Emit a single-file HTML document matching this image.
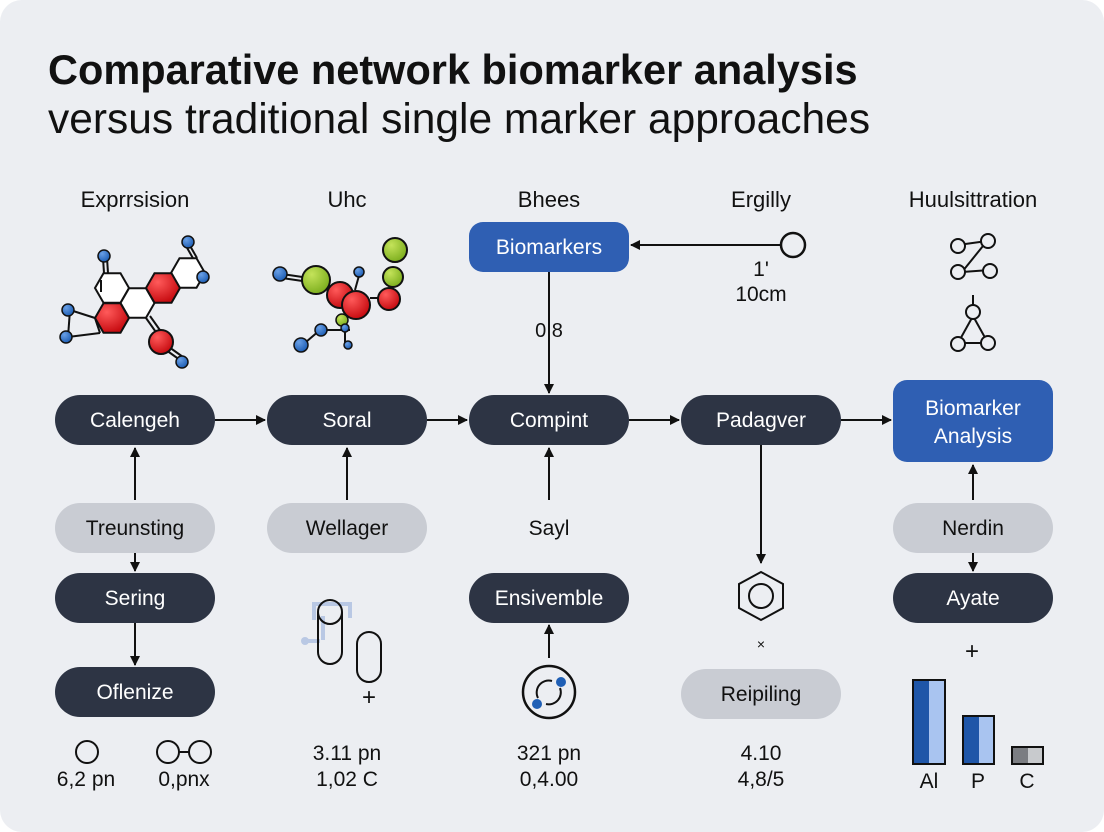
<!DOCTYPE html>
<html><head><style>
html,body{margin:0;padding:0;background:#fff;}
svg{display:block;font-family:"Liberation Sans",sans-serif;}
</style></head><body>
<svg width="1104" height="832" viewBox="0 0 1104 832" xmlns="http://www.w3.org/2000/svg">
<defs>
<marker id="ah" markerWidth="10" markerHeight="10" refX="9" refY="5" orient="auto" markerUnits="userSpaceOnUse"><path d="M0,0 L10,5 L0,10 z" fill="#111"/></marker>
<radialGradient id="rd" cx="35%" cy="30%" r="70%"><stop offset="0" stop-color="#ff5a5a"/><stop offset="1" stop-color="#c80d12"/></radialGradient>
<radialGradient id="gr" cx="35%" cy="30%" r="70%"><stop offset="0" stop-color="#c4e35a"/><stop offset="1" stop-color="#7fb020"/></radialGradient>
<radialGradient id="bl" cx="35%" cy="30%" r="70%"><stop offset="0" stop-color="#6aa0e6"/><stop offset="1" stop-color="#1f5fb5"/></radialGradient>
</defs>
<rect x="0" y="0" width="1104" height="832" rx="22" fill="#eceef2"/>
<text x="48" y="84" font-size="41.5" font-weight="bold" fill="#111">Comparative network biomarker analysis</text>
<text x="48" y="133" font-size="42.5" fill="#111">versus traditional single marker approaches</text>

<g font-size="22" fill="#111" text-anchor="middle">
<text x="135" y="207">Exprrsision</text><text x="347" y="207">Uhc</text><text x="549" y="207">Bhees</text><text x="761" y="207">Ergilly</text><text x="973" y="207">Huulsittration</text>
</g>

<!-- molecule 1 -->
<g stroke="#111" stroke-width="2">
<line x1="104" y1="273" x2="103" y2="258"/><line x1="108" y1="273" x2="107" y2="258"/>
<line x1="95" y1="318" x2="70" y2="310"/><line x1="95" y1="318" x2="100" y2="333"/>
<line x1="70" y1="310" x2="68" y2="337"/><line x1="68" y1="337" x2="100" y2="333"/>
<line x1="146" y1="318" x2="158" y2="335"/><line x1="150" y1="316" x2="162" y2="333"/>
<line x1="166" y1="350" x2="180" y2="360"/><line x1="169" y1="347" x2="183" y2="357"/>
<line x1="197" y1="258" x2="189" y2="244"/><line x1="194" y1="260" x2="186" y2="246"/>
<line x1="205" y1="273" x2="203" y2="277"/>
</g>
<g stroke="#111" stroke-width="2">
<polygon points="129,288 120.5,273.3 103.5,273.3 95,288 103.5,302.7 120.5,302.7" fill="#fff"/>
<polygon points="154.5,303 146,288.3 129,288.3 120.5,303 129,317.7 146,317.7" fill="#fff"/>
<polygon points="205,273 196.5,258.3 179.5,258.3 171,273 179.5,287.7 196.5,287.7" fill="#fff"/>
<polygon points="129,318 120.5,303.3 103.5,303.3 95,318 103.5,332.7 120.5,332.7" fill="url(#rd)"/>
<polygon points="180,288 171.5,273.3 154.5,273.3 146,288 154.5,302.7 171.5,302.7" fill="url(#rd)"/>
</g>
<line x1="101" y1="280" x2="101" y2="292" stroke="#111" stroke-width="2"/>
<circle cx="161" cy="342" r="12" fill="url(#rd)" stroke="#111" stroke-width="2"/>
<g fill="url(#bl)" stroke="#111" stroke-width="1.5">
<circle cx="104" cy="256" r="6"/><circle cx="188" cy="242" r="6"/><circle cx="203" cy="277" r="6"/><circle cx="68" cy="310" r="6"/><circle cx="66" cy="337" r="6"/><circle cx="182" cy="362" r="6"/>
</g>
<!-- molecule 2 -->
<g stroke="#111" stroke-width="2">
<line x1="282" y1="274" x2="316" y2="279"/><line x1="282" y1="278" x2="316" y2="283"/>
<line x1="355" y1="290" x2="360" y2="272"/><line x1="350" y1="330" x2="320" y2="330"/><line x1="306" y1="342" x2="320" y2="330"/>
<line x1="345" y1="315" x2="345" y2="345"/><line x1="370" y1="298" x2="392" y2="298"/>
</g>
<circle cx="316" cy="280" r="14" fill="url(#gr)" stroke="#111" stroke-width="2"/>
<circle cx="395" cy="250" r="12" fill="url(#gr)" stroke="#111" stroke-width="2"/>
<circle cx="393" cy="277" r="10" fill="url(#gr)" stroke="#111" stroke-width="2"/>
<circle cx="340" cy="295" r="13" fill="url(#rd)" stroke="#111" stroke-width="2"/>
<circle cx="356" cy="305" r="14" fill="url(#rd)" stroke="#111" stroke-width="2"/>
<circle cx="389" cy="299" r="11" fill="url(#rd)" stroke="#111" stroke-width="2"/>
<circle cx="342" cy="320" r="6" fill="url(#gr)" stroke="#111" stroke-width="1.5"/>
<g fill="url(#bl)" stroke="#111" stroke-width="1.5">
<circle cx="280" cy="274" r="7"/><circle cx="359" cy="272" r="5"/><circle cx="321" cy="330" r="6"/><circle cx="301" cy="345" r="7"/><circle cx="345" cy="328" r="4"/><circle cx="348" cy="345" r="4"/>
</g>

<!-- Biomarkers top -->
<rect x="469" y="222" width="160" height="50" rx="14" fill="#2f5fb3"/>
<text x="549" y="254" font-size="21" fill="#fff" text-anchor="middle">Biomarkers</text>
<line x1="781" y1="245" x2="631" y2="245" stroke="#111" stroke-width="2" marker-end="url(#ah)"/>
<circle cx="793" cy="245" r="12" fill="none" stroke="#111" stroke-width="2.5"/>
<text x="761" y="276" font-size="21" fill="#111" text-anchor="middle">1'</text>
<text x="761" y="301" font-size="21" fill="#111" text-anchor="middle">10cm</text>
<text x="549" y="337" font-size="20" fill="#111" text-anchor="middle">0 8</text>

<!-- network icons -->
<g stroke="#111" stroke-width="2" fill="#eceef2">
<line x1="958" y1="245" x2="987" y2="241"/><line x1="987" y1="241" x2="962" y2="272"/><line x1="962" y1="272" x2="990" y2="270"/>
<circle cx="958" cy="246" r="7"/><circle cx="988" cy="241" r="7"/><circle cx="958" cy="272" r="7"/><circle cx="990" cy="271" r="7"/>
<line x1="973" y1="295" x2="973" y2="310"/><line x1="973" y1="316" x2="958" y2="343"/><line x1="973" y1="316" x2="988" y2="343"/><line x1="958" y1="343" x2="988" y2="343"/>
<circle cx="973" cy="312" r="7"/><circle cx="958" cy="344" r="7"/><circle cx="988" cy="343" r="7"/>
</g>

<!-- main row -->
<g fill="#2d3444">
<rect x="55" y="395" width="160" height="50" rx="25"/><rect x="267" y="395" width="160" height="50" rx="25"/>
<rect x="469" y="395" width="160" height="50" rx="25"/><rect x="681" y="395" width="160" height="50" rx="25"/>
<rect x="55" y="573" width="160" height="50" rx="25"/><rect x="469" y="573" width="160" height="50" rx="25"/>
<rect x="893" y="573" width="160" height="50" rx="25"/><rect x="55" y="667" width="160" height="50" rx="25"/>
</g>
<rect x="893" y="380" width="160" height="82" rx="14" fill="#2f5fb3"/>
<g fill="#c9ccd3">
<rect x="55" y="503" width="160" height="50" rx="25"/><rect x="267" y="503" width="160" height="50" rx="25"/>
<rect x="893" y="503" width="160" height="50" rx="25"/><rect x="681" y="669" width="160" height="50" rx="25"/>
</g>
<g font-size="21" fill="#fff" text-anchor="middle">
<text x="135" y="427">Calengeh</text><text x="347" y="427">Soral</text><text x="549" y="427">Compint</text><text x="761" y="427">Padagver</text>
<text x="973" y="415">Biomarker</text><text x="973" y="443">Analysis</text>
<text x="135" y="605">Sering</text><text x="549" y="605">Ensivemble</text><text x="973" y="605">Ayate</text><text x="135" y="699">Oflenize</text>
</g>
<g font-size="21" fill="#111" text-anchor="middle">
<text x="135" y="535">Treunsting</text><text x="347" y="535">Wellager</text><text x="973" y="535">Nerdin</text><text x="761" y="701">Reipiling</text>
<text x="549" y="535">Sayl</text>
</g>

<g stroke="#111" stroke-width="2" marker-end="url(#ah)">
<line x1="215" y1="420" x2="265" y2="420"/><line x1="427" y1="420" x2="467" y2="420"/>
<line x1="629" y1="420" x2="679" y2="420"/><line x1="841" y1="420" x2="891" y2="420"/>
<line x1="135" y1="500" x2="135" y2="448"/><line x1="347" y1="500" x2="347" y2="448"/>
<line x1="549" y1="500" x2="549" y2="448"/><line x1="973" y1="500" x2="973" y2="465"/>
<line x1="549" y1="272" x2="549" y2="393"/><line x1="761" y1="445" x2="761" y2="563"/>
<line x1="135" y1="553" x2="135" y2="571"/><line x1="135" y1="623" x2="135" y2="665"/>
<line x1="973" y1="553" x2="973" y2="571"/><line x1="549" y1="658" x2="549" y2="625"/>
</g>

<!-- hexagon -->
<polygon points="761,572 783,584 783,608 761,620 739,608 739,584" fill="none" stroke="#111" stroke-width="2"/>
<circle cx="761" cy="596" r="12" fill="none" stroke="#111" stroke-width="2"/>
<text x="761" y="649" font-size="14" fill="#111" text-anchor="middle">×</text>

<!-- cylinders -->
<g stroke="#b9c8e4" stroke-width="4" fill="none"><path d="M314,620 V604 H350 V618"/><line x1="323" y1="616" x2="323" y2="640"/><line x1="305" y1="641" x2="320" y2="641"/></g>
<circle cx="305" cy="641" r="4" fill="#b9c8e4"/>
<rect x="318" y="600" width="24" height="64" rx="12" fill="none" stroke="#111" stroke-width="2"/>
<path d="M318,612 a12,12 0 0 0 24,0" fill="none" stroke="#111" stroke-width="2"/>
<rect x="357" y="632" width="24" height="50" rx="12" fill="none" stroke="#111" stroke-width="2"/>
<text x="369" y="705" font-size="24" fill="#111" text-anchor="middle">+</text>

<!-- circle icon -->
<circle cx="549" cy="692" r="26" fill="none" stroke="#111" stroke-width="2.5"/>
<path d="M538,698 a12,12 0 0 1 14,-17 M560,688 a12,12 0 0 1 -14,16" fill="none" stroke="#111" stroke-width="2"/>
<circle cx="561" cy="682" r="5" fill="#1f5fb5"/><circle cx="537" cy="704" r="5" fill="#1f5fb5"/>

<!-- bottom labels -->
<g stroke="#111" stroke-width="2" fill="none">
<circle cx="87" cy="752" r="11"/><circle cx="168" cy="752" r="11"/><circle cx="200" cy="752" r="11"/><line x1="179" y1="752" x2="189" y2="752"/>
</g>
<g font-size="21" fill="#111" text-anchor="middle">
<text x="86" y="786">6,2 pn</text><text x="184" y="786">0,pnx</text>
<text x="347" y="760">3.11 pn</text><text x="347" y="786">1,02 C</text>
<text x="549" y="760">321 pn</text><text x="549" y="786">0,4.00</text>
<text x="761" y="760">4.10</text><text x="761" y="786">4,8/5</text>
<text x="972" y="659" font-size="24">+</text>
<text x="929" y="788">Al</text><text x="978" y="788">P</text><text x="1027" y="788">C</text>
</g>
<!-- bars -->
<rect x="913" y="680" width="32" height="84" fill="#1f56a8" stroke="#111" stroke-width="2"/>
<rect x="929" y="681" width="15" height="82" fill="#a9c4f0"/>
<rect x="963" y="716" width="31" height="48" fill="#1f56a8" stroke="#111" stroke-width="2"/>
<rect x="979" y="717" width="14" height="46" fill="#a9c4f0"/>
<rect x="1012" y="747" width="31" height="17" fill="#7b7d82" stroke="#111" stroke-width="2"/>
<rect x="1028" y="748" width="14" height="15" fill="#c8cacd"/>
</svg>
</body></html>
